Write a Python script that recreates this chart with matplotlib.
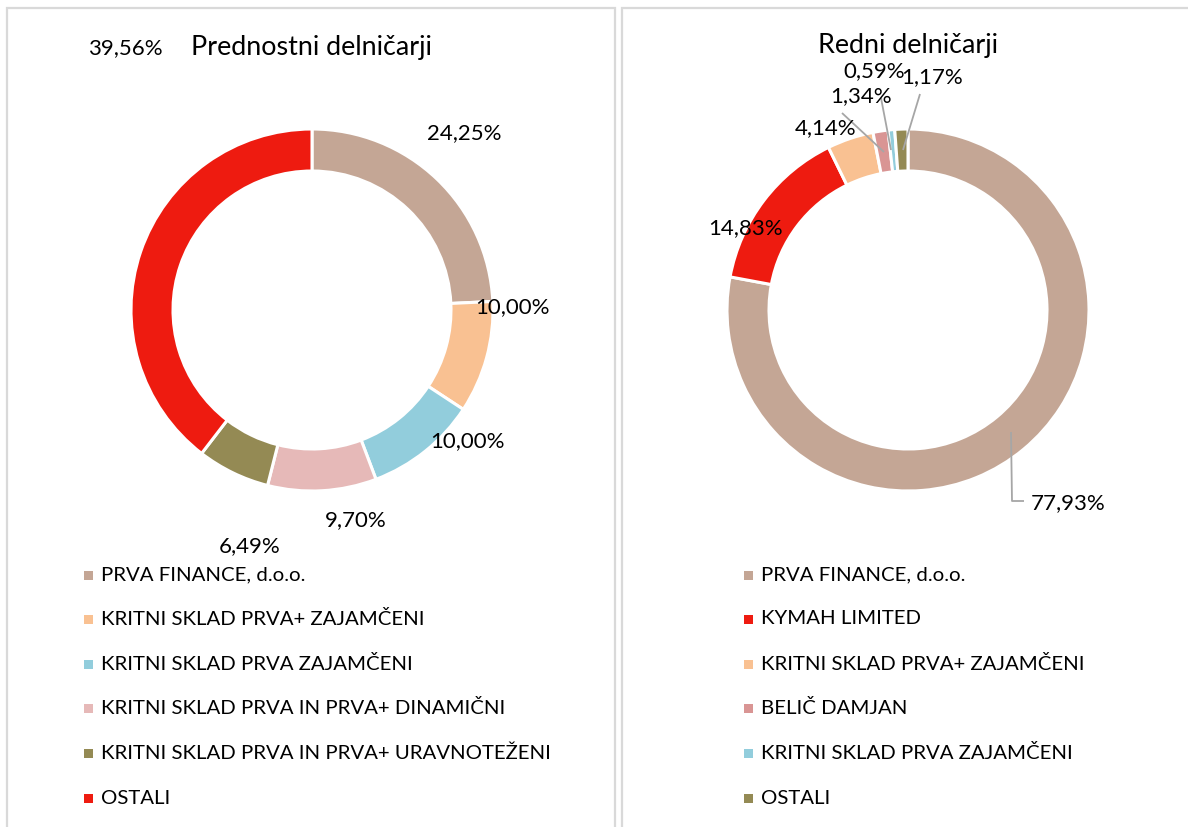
import matplotlib
matplotlib.use("Agg")
import matplotlib.pyplot as plt
from matplotlib.patches import Rectangle

W, H = 1188, 827

# ---- data ----
left_title = "Prednostni delničarji"
left_categories = [
    "PRVA FINANCE, d.o.o.",
    "KRITNI SKLAD PRVA+ ZAJAMČENI",
    "KRITNI SKLAD PRVA ZAJAMČENI",
    "KRITNI SKLAD PRVA IN PRVA+ DINAMIČNI",
    "KRITNI SKLAD PRVA IN PRVA+ URAVNOTEŽENI",
    "OSTALI",
]
left_values = [24.25, 10.00, 10.00, 9.70, 6.49, 39.56]
left_colors = ["#C4A695", "#F9C192", "#92CDDC", "#E6B9B8", "#948A54", "#EE1B10"]

right_title = "Redni delničarji"
right_categories = [
    "PRVA FINANCE, d.o.o.",
    "KYMAH LIMITED",
    "KRITNI SKLAD PRVA+ ZAJAMČENI",
    "BELIČ DAMJAN",
    "KRITNI SKLAD PRVA ZAJAMČENI",
    "OSTALI",
]
right_values = [77.93, 14.83, 4.14, 1.34, 0.59, 1.17]
right_colors = ["#C4A695", "#EE1B10", "#F9C192", "#D99594", "#92CDDC", "#948A54"]

# ---- layout (pixel positions) ----
left_center = (312, 310)
right_center = (908, 310)
R_OUT = 181
RING = 42
left_label_pos = [(464, 133), (512, 307), (467, 441), (356, 520), (250, 546), (125, 48)]
right_label_pos = [(1068, 503), (746, 228), (826, 128), (861, 96), (874, 71), (932, 77)]
right_leaders = [
    [(1011, 432), (1012, 501), (1024, 501)],
    None,
    None,
    [(842, 113), (884, 152)],
    [(881, 98), (891, 150)],
    [(920, 94), (903, 150)],
]
left_title_pos = (311, 48)
right_title_pos = (908, 46)
legend_rows = [575, 619, 664, 708, 753, 798]
left_legend_x = 88
right_legend_x = 748

TITLE_FS = 19.4
LABEL_FS = 16
LEGEND_FS = 14.7

FONT = ["Lato", "DejaVu Sans"]
plt.rcParams["font.family"] = FONT

fig = plt.figure(figsize=(W / 100, H / 100), dpi=100)
ax = fig.add_axes([0, 0, 1, 1])


def Y(y):
    return H - y


def fmt(v):
    return f"{v:.2f}".replace(".", ",") + "%"


# panel borders
ax.add_patch(Rectangle((7, Y(900)), 608, 892, fill=False, edgecolor="#D9D9D9", linewidth=1.6))
ax.add_patch(Rectangle((622, Y(900)), 700, 892, fill=False, edgecolor="#D9D9D9", linewidth=1.6))


def donut(center, values, colors):
    ax.pie(values, colors=colors, startangle=90, counterclock=False,
           radius=R_OUT, center=(center[0], Y(center[1])),
           wedgeprops=dict(width=RING, edgecolor="white", linewidth=2.2))


donut(left_center, left_values, left_colors)
donut(right_center, right_values, right_colors)

# titles
ax.text(left_title_pos[0], Y(left_title_pos[1]), left_title, fontsize=TITLE_FS,
        ha="center", va="center", color="#000000")
ax.text(right_title_pos[0], Y(right_title_pos[1]), right_title, fontsize=TITLE_FS,
        ha="center", va="center", color="#000000")

# leader lines
for pts in right_leaders:
    if pts:
        ax.plot([p[0] for p in pts], [Y(p[1]) for p in pts], color="#A6A6A6", lw=1.3,
                solid_capstyle="butt")

# data labels
for v, (x, y) in zip(left_values, left_label_pos):
    ax.text(x, Y(y), fmt(v), fontsize=LABEL_FS, ha="center", va="center", color="#000000")
for v, (x, y) in zip(right_values, right_label_pos):
    ax.text(x, Y(y), fmt(v), fontsize=LABEL_FS, ha="center", va="center", color="#000000")

# legends
for cats, cols, lx in [(left_categories, left_colors, left_legend_x),
                       (right_categories, right_colors, right_legend_x)]:
    for cat, col, ry in zip(cats, cols, legend_rows):
        ax.add_patch(Rectangle((lx - 4.5, Y(ry) - 4.5), 9, 9, facecolor=col, edgecolor="none"))
        ax.text(lx + 13, Y(ry), cat, fontsize=LEGEND_FS, ha="left", va="center", color="#000000")

ax.set_xlim(0, W)
ax.set_ylim(0, H)
ax.set_aspect("auto")
ax.axis("off")

fig.savefig("out.png", dpi=100, facecolor="white")
